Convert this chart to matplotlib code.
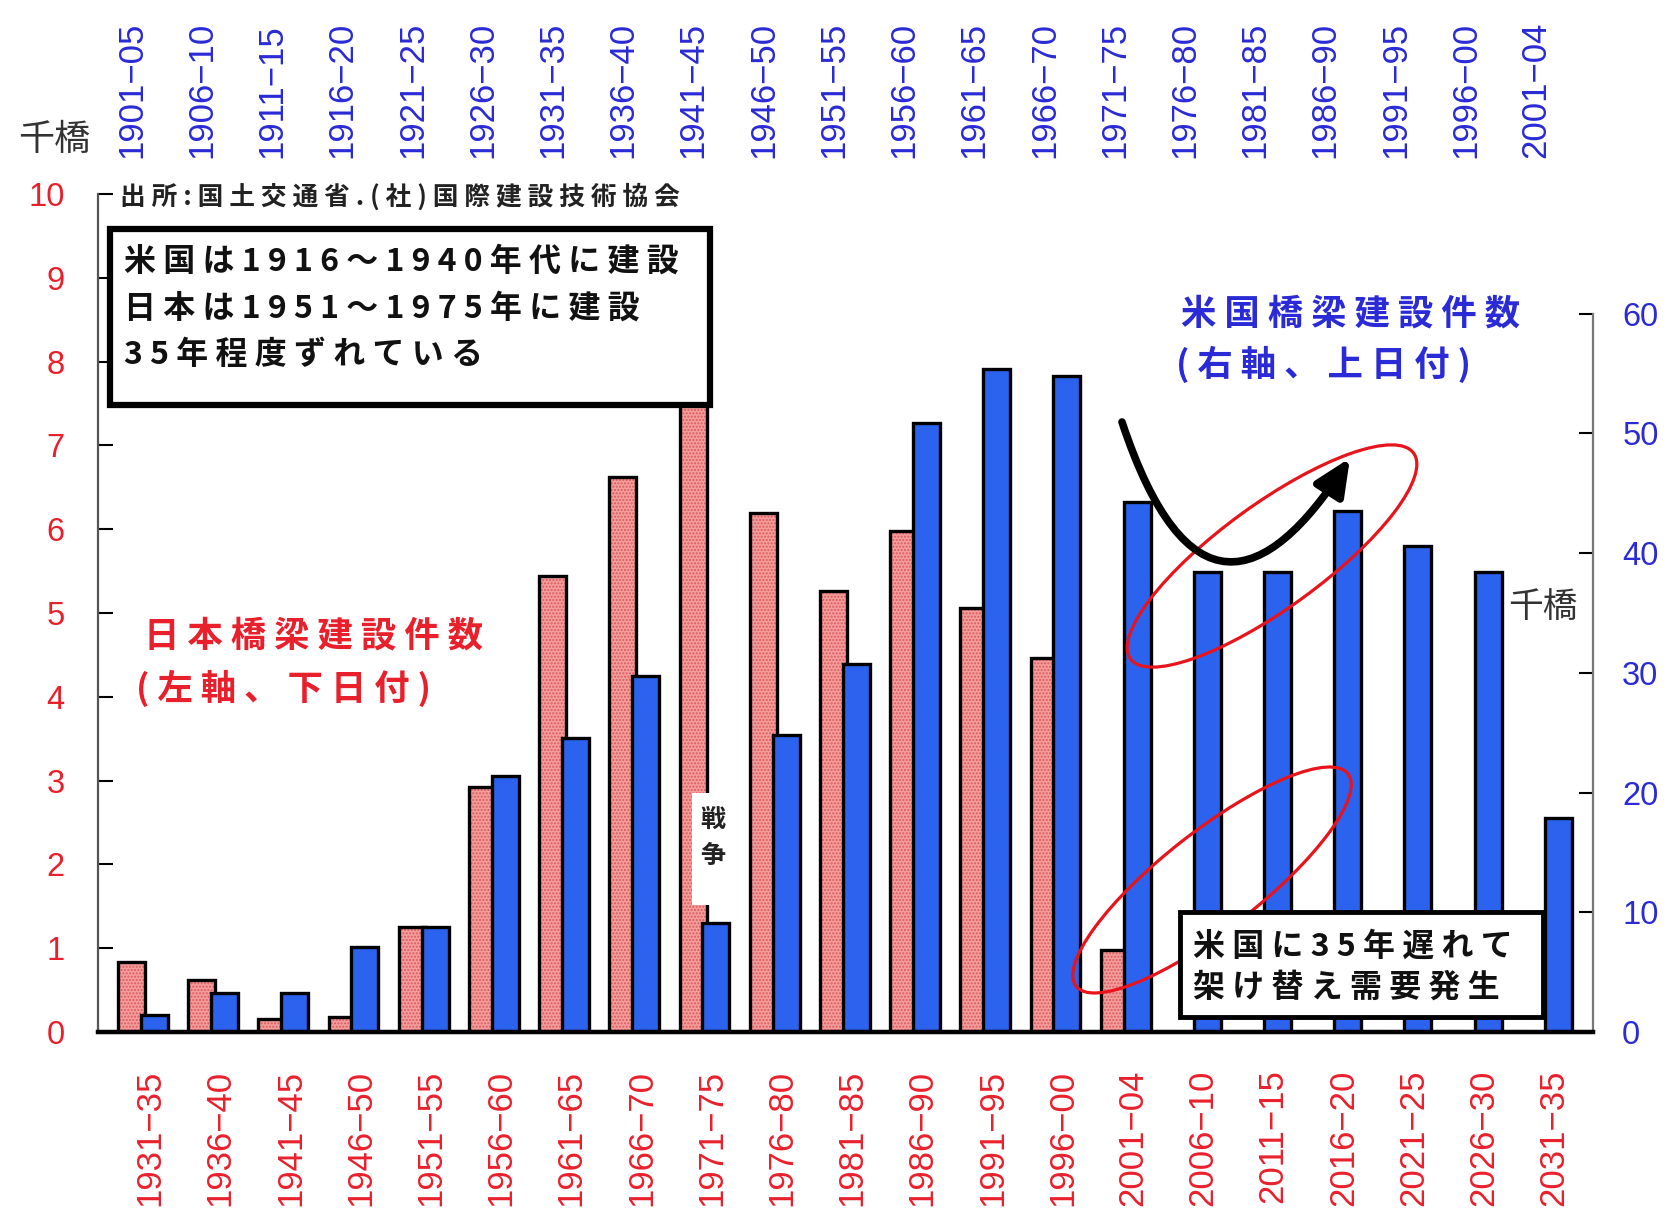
import numpy as np
import matplotlib
matplotlib.use('Agg')
import matplotlib.pyplot as plt
from matplotlib.patches import Rectangle, Ellipse, FancyArrowPatch
from matplotlib.path import Path
from matplotlib.transforms import Affine2D

# 日本：左軸（千橋）、下の期間
jp_periods = ['1931−35', '1936−40', '1941−45', '1946−50', '1951−55', '1956−60',
              '1961−65', '1966−70', '1971−75', '1976−80', '1981−85', '1986−90',
              '1991−95', '1996−00', '2001−04', '2006−10', '2011−15', '2016−20',
              '2021−25', '2026−30', '2031−35']
jp_bridges = [0.84, 0.62, 0.15, 0.18, 1.25, 2.92, 5.44, 6.62, 7.9, 6.19, 5.26,
              5.98, 5.06, 4.46, 0.98]

# 米国：右軸（千橋）、上の期間
us_periods = ['1901−05', '1906−10', '1911−15', '1916−20', '1921−25', '1926−30',
              '1931−35', '1936−40', '1941−45', '1946−50', '1951−55', '1956−60',
              '1961−65', '1966−70', '1971−75', '1976−80', '1981−85', '1986−90',
              '1991−95', '1996−00', '2001−04']
us_bridges = [1.4, 3.25, 3.25, 7.1, 8.8, 21.4, 24.6, 29.7, 9.1, 24.8, 30.75, 50.9,
              55.4, 54.8, 44.3, 38.4, 38.4, 43.5, 40.6, 38.4, 17.9]

left_ticks = list(range(0, 11))
right_ticks = list(range(0, 61, 10))

W, H = 1669, 1220
RED = '#e8202c'
BLUE = '#2a2ad6'
PINK = '#f59d9d'
BAR_BLUE = '#2b63ee'
JP = ['Noto Sans CJK JP', 'DejaVu Sans']

plt.rcParams['font.family'] = ['Liberation Sans', 'DejaVu Sans']
plt.rcParams['hatch.linewidth'] = 1.0

fig = plt.figure(figsize=(W / 100, H / 100), dpi=100)
# pixel coordinates measured from the top-left corner
px = Affine2D().scale(1 / W, -1 / H).translate(0, 1) + fig.transFigure

ax = fig.add_axes([98 / W, 188 / H, 1495 / W, 838 / H])
ax2 = ax.twinx()

x = np.arange(len(jp_periods))
bw = 0.385
xj = x[:len(jp_bridges)] - 0.165
xu = x[:len(us_bridges)] + 0.16

# 日本：ピンクの網掛け
ax.bar(xj, jp_bridges, bw, color=PINK, linewidth=0, zorder=2)
ax.bar(xj, jp_bridges, bw, facecolor='none', edgecolor='#d85a5a', hatch='.....',
       linewidth=0, zorder=2.1)
ax.bar(xj, jp_bridges, bw, fill=False, edgecolor='black', linewidth=2.4, zorder=2.2)

# 米国
ax2.bar(xu, us_bridges, bw, color=BAR_BLUE, edgecolor='black', linewidth=2.4, zorder=2)

ax.set_xlim(-0.641, 20.655)
ax.set_ylim(0, 10)
ax2.set_ylim(0, 70)

ax.set_yticks(left_ticks)
ax2.set_yticks(right_ticks)
ax.tick_params(axis='y', direction='in', length=11, width=1.5, pad=24,
               labelsize=23.5, labelcolor=RED)
ax2.tick_params(axis='y', direction='in', length=10, width=1.5, pad=21,
                labelsize=23.5, labelcolor=BLUE)

ax.set_xticks(x + 0.1, labels=jp_periods)
ax.tick_params(axis='x', length=0, pad=27, labelsize=25, labelcolor=RED,
               labelrotation=90)
top = ax.secondary_xaxis('top')
top.set_xticks(x - 0.16, labels=us_periods)
top.tick_params(axis='x', length=0, pad=26, labelsize=25, labelcolor=BLUE,
                labelrotation=90)
top.spines['top'].set_visible(False)

for s in ['top', 'right', 'bottom']:
    ax.spines[s].set_visible(False)
for s in ['top', 'left']:
    ax2.spines[s].set_visible(False)
ax.spines['left'].set_color('#555555')
ax.spines['left'].set_linewidth(1.6)
ax2.spines['right'].set_color('#777777')
ax2.spines['right'].set_linewidth(1.6)
ax2.spines['right'].set_bounds(0, 60)
ax2.spines['bottom'].set_color('black')
ax2.spines['bottom'].set_linewidth(3.2)


def spaced(s):
    return ' '.join(s)


def ptext(x0, y0, s, **kw):
    kw.setdefault('family', JP)
    return fig.text(x0, y0, s, transform=px, **kw)


# 単位
ptext(54, 140, '千橋', fontsize=26, color='#333333', ha='center', va='center')
ptext(1543, 608, '千橋', fontsize=25, color='#333333', ha='center', va='center')

# 出所
ptext(120, 197, spaced('出所:国土交通省.(社)国際建設技術協会'), fontsize=18.5,
      weight='bold', color='#222222', va='center')

# 左上の説明枠
fig.patches.append(Rectangle((110, 229), 600, 176, transform=px, facecolor='white',
                             edgecolor='black', linewidth=4.5, zorder=5))
for yy, line in zip([262, 309, 355], ['米国は1916～1940年代に建設',
                                     '日本は1951～1975年に建設',
                                     '35年程度ずれている']):
    ptext(124, yy, spaced(line), fontsize=23, weight='bold', color='#111111',
          va='center', zorder=6)

# 系列名
ptext(144, 636, spaced('日本橋梁建設件数'), fontsize=25.5, weight='bold', color=RED,
      va='center')
ptext(136, 688, spaced('(左軸、下日付)'), fontsize=25.5, weight='bold', color=RED,
      va='center')
ptext(1181, 314, spaced('米国橋梁建設件数'), fontsize=25.5, weight='bold', color=BLUE,
      va='center')
ptext(1176, 364, spaced('(右軸、上日付)'), fontsize=25.5, weight='bold', color=BLUE,
      va='center')

# 戦争
fig.patches.append(Rectangle((692, 793), 34, 112, transform=px, facecolor='white',
                             edgecolor='none', zorder=4))
ptext(713, 838, '戦\n争', fontsize=18, weight='bold', color='#222222',
      ha='center', va='center', linespacing=1.6, zorder=4.5)

# 赤丸
for (cx, cy), major, minor, ang in [((1272, 556), 350, 104, -36),
                                     ((1212, 880), 345, 98, -38)]:
    fig.patches.append(Ellipse((cx, cy), major, minor, angle=ang, transform=px,
                               fill=False, edgecolor='#e8141c', linewidth=2.3,
                               zorder=3))

# 下降と再上昇の矢印
verts = [(1122, 422), (1185, 612), (1265, 590), (1350, 458)]
codes = [Path.MOVETO, Path.CURVE4, Path.CURVE4, Path.CURVE4]
arrow = FancyArrowPatch(path=Path(verts, codes), transform=px,
                        arrowstyle='-|>,head_length=1.1,head_width=0.5',
                        mutation_scale=20, color='black', linewidth=5.5,
                        zorder=3.5)
fig.patches.append(arrow)

# 右下の説明枠
fig.patches.append(Rectangle((1180, 912), 363, 105, transform=px, facecolor='white',
                             edgecolor='black', linewidth=3.5, zorder=5))
for yy, line in zip([947, 988], ['米国に35年遅れて', '架け替え需要発生']):
    ptext(1193, yy, spaced(line), fontsize=23, weight='bold', color='#111111',
          va='center', zorder=6)

fig.savefig('out.png', dpi=100, facecolor='white')
